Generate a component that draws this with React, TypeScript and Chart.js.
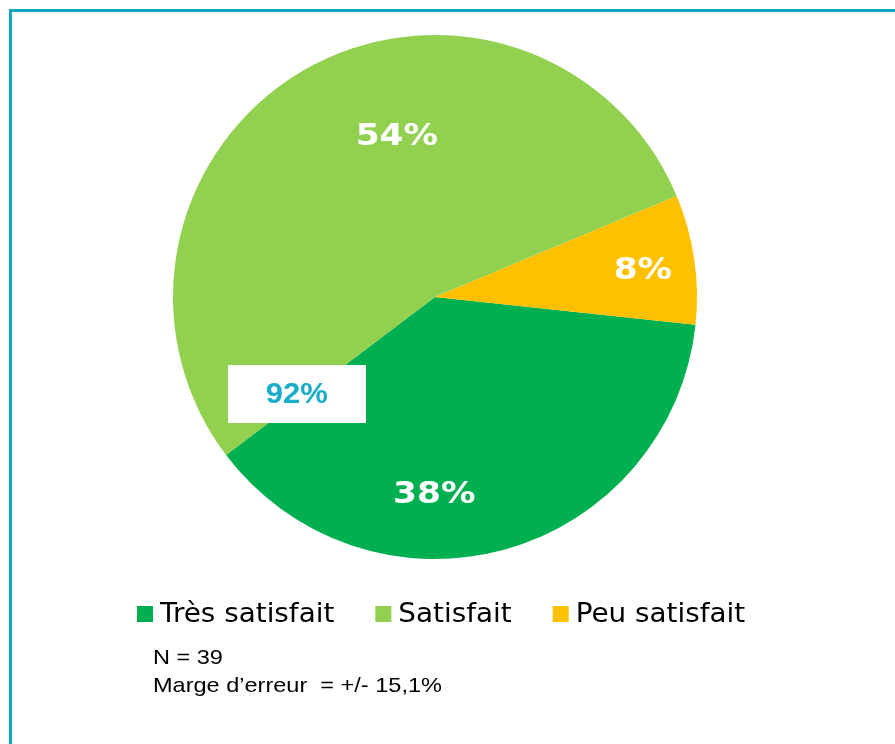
import React, { useEffect, useRef } from "react";
import { Chart, registerables } from "chart.js";

Chart.register(...registerables);

const categories = ["Très satisfait", "Satisfait", "Peu satisfait"];
const values = [38, 54, 8];
const colors = ["#00B050", "#92D050", "#FFC000"];
const valueLabels = ["38%", "54%", "8%"];
const totalSatisfiedLabel = `${values[0] + values[1]}%`;
const notes = ["N = 39", "Marge d\u2019erreur  = +/- 15,1%"];

// label placement inside each slice (fraction of slice angle, fraction of radius)
const labelAngleFrac = [0.615, 0.585, 0.53];
const labelRadiusFrac = [0.75, 0.63, 0.8];

function stretchedText(ctx: CanvasRenderingContext2D, text: string, x: number, y: number, sx: number) {
  ctx.save();
  ctx.translate(x, y);
  ctx.scale(sx, 1);
  ctx.fillText(text, 0, 0);
  ctx.restore();
}

const overlayPlugin = {
  id: "overlay",
  afterDraw(chart: any) {
    const ctx = chart.ctx as CanvasRenderingContext2D;
    const meta = chart.getDatasetMeta(0);
    ctx.save();

    // frame
    ctx.strokeStyle = "#12A5C0";
    ctx.lineWidth = 3;
    ctx.strokeRect(10.5, 10.5, 1000, 1000);

    // slice labels
    ctx.fillStyle = "#FFFFFF";
    ctx.textAlign = "center";
    ctx.textBaseline = "middle";
    ctx.font = "bold 31px 'DejaVu Sans'";
    meta.data.forEach((arc: any, i: number) => {
      const a = arc.startAngle + labelAngleFrac[i] * (arc.endAngle - arc.startAngle);
      const r = arc.outerRadius * labelRadiusFrac[i];
      const x = arc.x + Math.cos(a) * r;
      const y = arc.y + Math.sin(a) * r;
      stretchedText(ctx, valueLabels[i], x, y + 1, 1.11);
    });

    // combined box at the boundary between slice 0 and slice 1
    const a0 = meta.data[0];
    const ba = a0.endAngle + 0.035;
    const br = a0.outerRadius * 0.645;
    const bx = a0.x + Math.cos(ba) * br;
    const by = a0.y + Math.sin(ba) * br;
    const bw = 138, bh = 58;
    ctx.fillStyle = "#FFFFFF";
    ctx.fillRect(Math.round(bx - bw / 2), Math.round(by - bh / 2), bw, bh);
    ctx.fillStyle = "#1AADCB";
    ctx.font = "bold 29px 'Liberation Sans', Arial";
    stretchedText(ctx, totalSatisfiedLabel, bx, by + 1, 1.07);

    // legend
    ctx.font = "26px 'DejaVu Sans'";
    ctx.textAlign = "left";
    ctx.textBaseline = "alphabetic";
    const sx = 1.07;
    let lx = 137;
    const ly = 622;
    categories.forEach((c, i) => {
      ctx.fillStyle = colors[i];
      ctx.fillRect(lx, ly - 16, 16, 16);
      ctx.fillStyle = "#000000";
      stretchedText(ctx, c, lx + 23, ly, sx);
      lx += 23 + ctx.measureText(c).width * sx + 41;
    });

    // notes
    ctx.font = "21px 'Liberation Sans', Arial";
    ctx.fillStyle = "#000000";
    stretchedText(ctx, notes[0], 153, 664, 1.12);
    stretchedText(ctx, notes[1], 153, 692, 1.12);

    ctx.restore();
  },
};

export default function App() {
  const ref = useRef<HTMLCanvasElement>(null);
  useEffect(() => {
    if (!ref.current) return;
    const chart = new Chart(ref.current, {
      type: "pie",
      data: {
        labels: categories,
        datasets: [
          {
            data: values,
            backgroundColor: colors,
            borderWidth: 0,
          },
        ],
      },
      options: {
        responsive: false,
        animation: false,
        rotation: 96.1,
        layout: { padding: { left: 173, right: 198, top: 35, bottom: 185 } },
        plugins: {
          legend: { display: false },
          tooltip: { enabled: false },
        },
      },
      plugins: [overlayPlugin],
    });
    return () => chart.destroy();
  }, []);
  return (
    <div style={{ position: "fixed", left: 0, top: 0, width: 895, height: 744, background: "#fff" }}>
      <canvas ref={ref} width={895} height={744} style={{ display: "block" }} />
    </div>
  );
}
